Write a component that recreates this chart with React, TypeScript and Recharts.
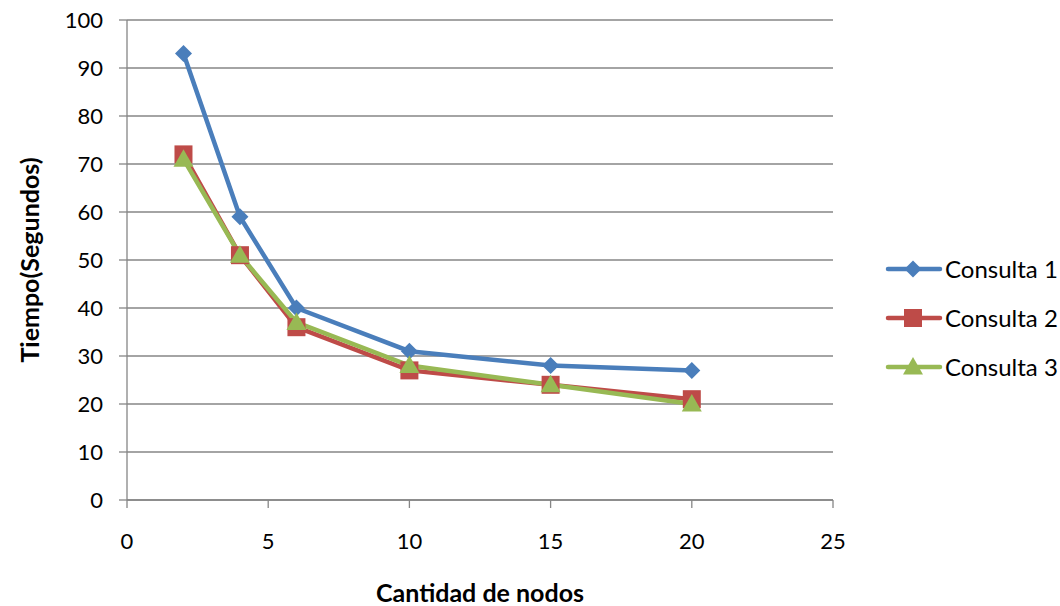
import React from 'react';
import { LineChart, Line, XAxis, YAxis, CartesianGrid, Legend, Label } from 'recharts';

const nodos = [2, 4, 6, 10, 15, 20];
const consulta1 = [93, 59, 40, 31, 28, 27];
const consulta2 = [72, 51, 36, 27, 24, 21];
const consulta3 = [71, 51, 37, 28, 24, 20];
const xTicks = [0, 5, 10, 15, 20, 25];
const yTicks = [0, 10, 20, 30, 40, 50, 60, 70, 80, 90, 100];

const series = [
  { key: 'c1', name: 'Consulta 1', color: '#4A7EBB', shape: 'diamond' },
  { key: 'c2', name: 'Consulta 2', color: '#BE4B48', shape: 'square' },
  { key: 'c3', name: 'Consulta 3', color: '#98B954', shape: 'triangle' },
];

const data = nodos.map((n, i) => ({ n, c1: consulta1[i], c2: consulta2[i], c3: consulta3[i] }));

const FONT = 'Lato, "Open Sans", sans-serif';
const GRAY = '#868686';

const Marker = ({ cx, cy, shape, color }: { cx: number; cy: number; shape: string; color: string }) => {
  if (shape === 'diamond') {
    const r = 8.5;
    return <path d={`M${cx},${cy - r}L${cx + r},${cy}L${cx},${cy + r}L${cx - r},${cy}Z`} fill={color} />;
  }
  if (shape === 'square') {
    const r = 9;
    return <rect x={cx - r} y={cy - r} width={r * 2} height={r * 2} fill={color} />;
  }
  const r = 10;
  return <path d={`M${cx},${cy - r}L${cx + r},${cy + r * 0.75}L${cx - r},${cy + r * 0.75}Z`} fill={color} />;
};

const renderLegend = () => (
  <div style={{ fontFamily: FONT, fontSize: 24, color: '#000' }}>
    {series.map((s) => (
      <div key={s.key} style={{ display: 'flex', alignItems: 'center', height: 49 }}>
        <svg width={58} height={24}>
          <line x1={3} y1={12} x2={55} y2={12} stroke={s.color} strokeWidth={4.5} strokeLinecap="round" />
          <Marker cx={28} cy={12} shape={s.shape} color={s.color} />
        </svg>
        <span style={{ marginLeft: 2, lineHeight: 1 }}>{s.name}</span>
      </div>
    ))}
  </div>
);

export default function App() {
  return (
    <div style={{ position: 'absolute', left: 0, top: 0 }}>
      <LineChart width={1060} height={606} data={data} margin={{ top: 20, right: 52, bottom: 0, left: 0 }}>
        <CartesianGrid vertical={false} stroke={GRAY} strokeWidth={1.3} />
        <XAxis
          dataKey="n"
          type="number"
          domain={[0, 25]}
          ticks={xTicks}
          height={106}
          stroke={GRAY}
          strokeWidth={1.3}
          tickSize={8}
          tickMargin={25}
          tick={{ fill: '#000', fontSize: 22, fontFamily: FONT }}
        >
          <Label value="Cantidad de nodos" position="center" dy={40} style={{ fontFamily: FONT, fontSize: 25, fontWeight: 'bold', fill: '#000' }} />
        </XAxis>
        <YAxis
          type="number"
          domain={[0, 100]}
          ticks={yTicks}
          width={127}
          stroke={GRAY}
          strokeWidth={1.3}
          tickSize={8}
          tickMargin={16}
          tick={{ fill: '#000', fontSize: 22, fontFamily: FONT }}
        >
          <Label value="Tiempo(Segundos)" position="center" angle={-90} dx={-33} style={{ fontFamily: FONT, fontSize: 25, fontWeight: 'bold', fill: '#000', textAnchor: 'middle' }} />
        </YAxis>
        <Legend content={renderLegend} layout="vertical" align="right" verticalAlign="top" wrapperStyle={{ left: 885, top: 244, width: 175 }} />
        {series.map((s) => (
          <Line
            key={s.key}
            dataKey={s.key}
            name={s.name}
            stroke={s.color}
            strokeWidth={4.5}
            isAnimationActive={false}
            dot={(p: any) => <Marker key={`${s.key}-${p.index}`} cx={p.cx} cy={p.cy} shape={s.shape} color={s.color} />}
            activeDot={false}
          />
        ))}
      </LineChart>
    </div>
  );
}
